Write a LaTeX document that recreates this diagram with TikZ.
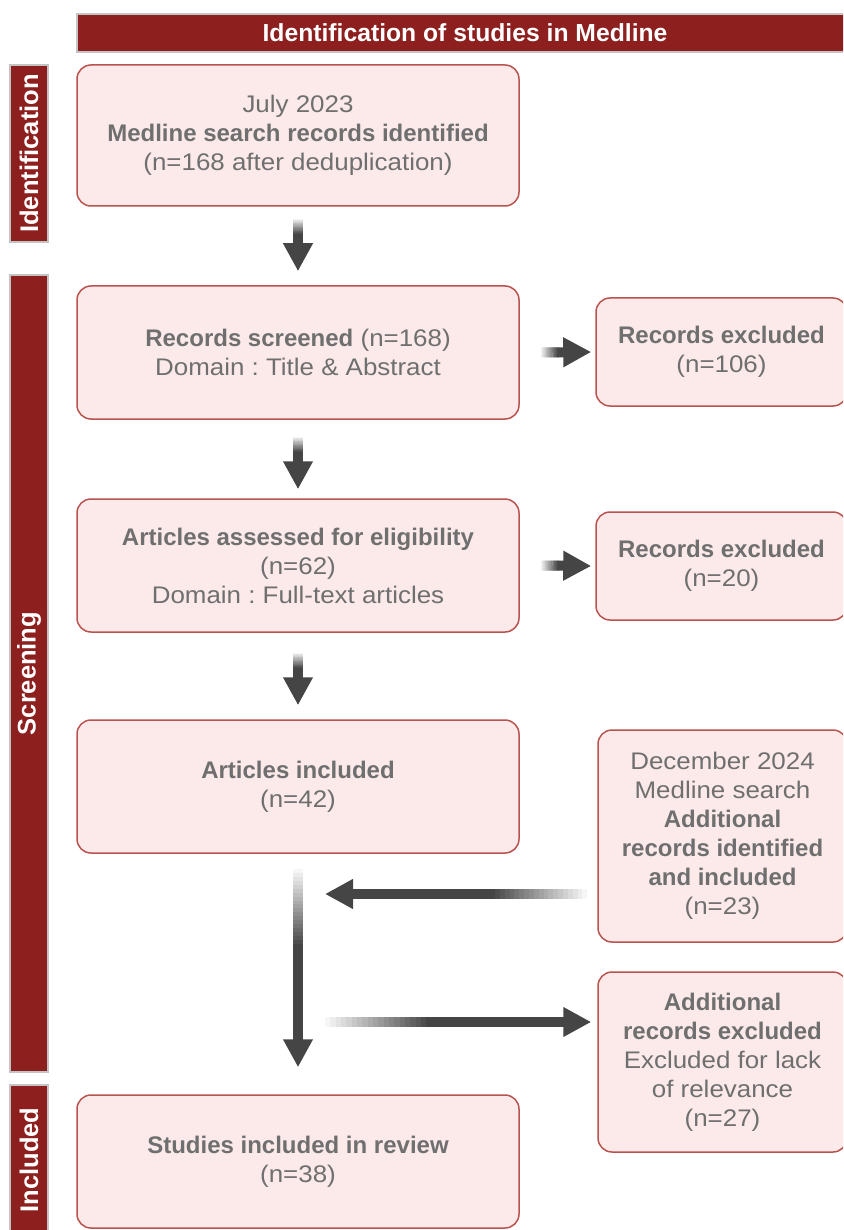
\documentclass[tikz,border=0pt]{standalone}
\usepackage{fontspec}
\setmainfont{Liberation Sans}[UprightFeatures={FakeStretch=1.08}]
\usetikzlibrary{arrows.meta,positioning,calc}
\definecolor{barred}{HTML}{8E1F1F}
\definecolor{barline}{HTML}{C4C4C4}
\definecolor{boxfill}{HTML}{FCEAEA}
\definecolor{boxline}{HTML}{B9534F}
\definecolor{txtgray}{HTML}{6F6F6F}
\definecolor{arrowgray}{HTML}{454545}
\frenchspacing

\tikzset{
  stage/.style={draw=barline,line width=2pt,fill=barred,text=white,
    font=\fontsize{25.5}{29}\selectfont\bfseries,inner sep=0pt},
  flowbox/.style={draw=boxline,line width=1.5pt,fill=boxfill,rounded corners=14pt,
    text=txtgray,align=center,font=\fontsize{24}{29}\selectfont,inner sep=0pt},
  shaft/.style={line width=10pt},
  headtip/.style={-{Triangle[width=28pt,length=28pt]}},
}

% arrow whose tail fades into the white page
\newcommand\gradarrow[3]{%
  \foreach \k in {1,...,20}{%
    \pgfmathsetmacro\shadepct{5*\k}
    \pgfmathsetmacro\fa{(\k-1)/20*#3}
    \pgfmathsetmacro\fb{(\k+0.5)/20*#3}
    \draw[shaft,arrowgray!\shadepct] ($(#1)!\fa!(#2)$) -- ($(#1)!\fb!(#2)$);
  }
  \draw[shaft,arrowgray,headtip] ($(#1)!#3!(#2)$) -- (#2);
}

\begin{document}
\begin{tikzpicture}[x=1pt,y=-1pt,>=latex]
\useasboundingbox (0,0) rectangle (843,1230);
\clip (0,0) rectangle (843,1230);

% stage bars
\node[stage,font=\fontsize{24.7}{29}\selectfont\bfseries,minimum width=776pt,minimum height=38pt] (head) at (465,33) {Identification of studies in Medline};
\node[stage,rotate=90,minimum width=177pt,minimum height=38pt] (sident) at (29,153.5) {Identification};
\node[stage,rotate=90,minimum width=797pt,minimum height=38pt] (sscreen) at (29,673.5) {Screening};
\node[stage,rotate=90,minimum width=150pt,minimum height=38pt] (sincl) at (29,1160) {Included};

% main column
\node[flowbox,minimum width=442pt,minimum height=141pt] (b1) at (298,135.5)
  {July 2023\\\textbf{Medline search records identified}\\(n=168 after deduplication)};
\node[flowbox,minimum width=442pt,minimum height=133pt] (b2) at (298,352.5)
  {\textbf{Records screened} (n=168)\\Domain : Title \& Abstract};
\node[flowbox,minimum width=442pt,minimum height=133pt] (b3) at (298,565.5)
  {\textbf{Articles assessed for eligibility}\\(n=62)\\Domain : Full-text articles};
\node[flowbox,minimum width=442pt,minimum height=133pt] (b4) at (298,786.5)
  {\textbf{Articles included}\\(n=42)};
\node[flowbox,minimum width=442pt,minimum height=133pt] (b5) at (298,1161.5)
  {\textbf{Studies included in review}\\(n=38)};

% side column
\node[flowbox,minimum width=251pt,minimum height=108pt] (e1) at (721.5,352)
  {\textbf{Records excluded}\\(n=106)};
\node[flowbox,minimum width=251pt,minimum height=108pt] (e2) at (721.5,566)
  {\textbf{Records excluded}\\(n=20)};
\node[flowbox,minimum width=249pt,minimum height=212pt] (a1) at (722.5,836)
  {December 2024\\Medline search\\\textbf{Additional}\\\textbf{records identified}\\\textbf{and included}\\(n=23)};
\node[flowbox,minimum width=249pt,minimum height=180pt] (a2) at (722.5,1062)
  {\textbf{Additional}\\\textbf{records excluded}\\Excluded for lack\\of relevance\\(n=27)};

\coordinate (join in) at (325,894);
\coordinate (join out) at (325,1022);

% arrows
\gradarrow{[yshift=-12pt]b1.south}{[yshift=14pt]b2.north}{0.3}
\gradarrow{[yshift=-17pt]b2.south}{[yshift=9pt]b3.north}{0.3}
\gradarrow{[yshift=-20pt]b3.south}{[yshift=14pt]b4.north}{0.3}
\gradarrow{[xshift=21pt]b2.east}{[xshift=-4pt]e1.west}{0.35}
\gradarrow{[xshift=21pt]b3.east}{[xshift=-4pt]e2.west}{0.35}
\gradarrow{[yshift=-15pt]b4.south}{[yshift=27pt]b5.north}{0.4}
\gradarrow{[xshift=-10pt]a1.west |- join in}{join in}{0.37}
\gradarrow{join out}{[xshift=-6pt]a2.west |- join out}{0.4}
\end{tikzpicture}
\end{document}
